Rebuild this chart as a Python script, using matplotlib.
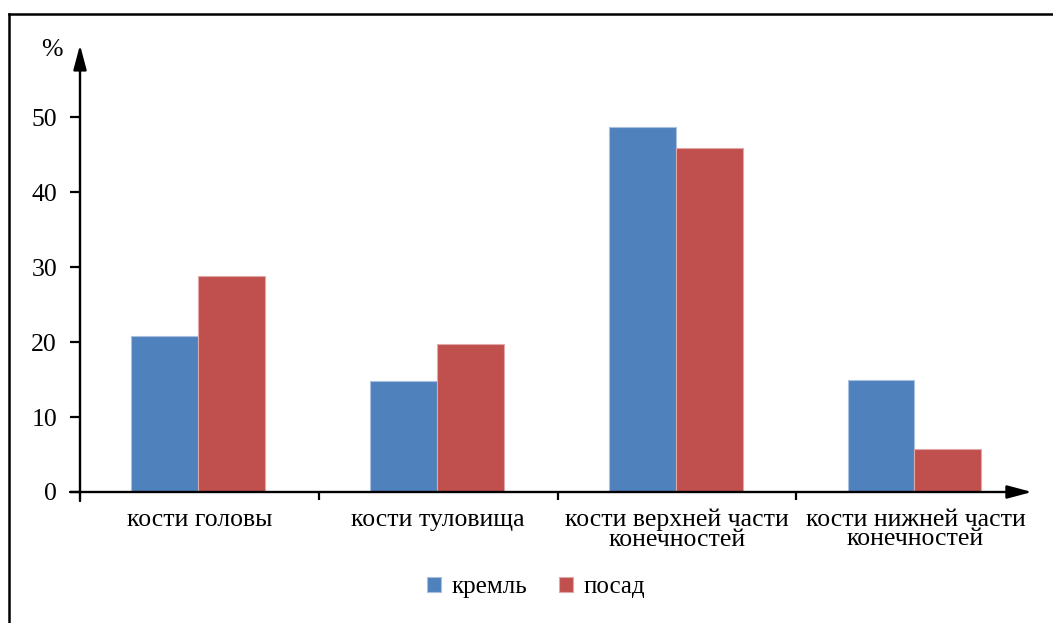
import matplotlib
matplotlib.use('Agg')
import matplotlib.pyplot as plt
from matplotlib.lines import Line2D
import numpy as np

plt.rcParams['font.family'] = ['Liberation Serif', 'DejaVu Serif']

# доля костей по отделам скелета, %
categories = ['кости головы', 'кости туловища',
              'кости верхней части\nконечностей', 'кости нижней части\nконечностей']
kreml = [20.8, 14.8, 48.7, 14.9]
posad = [28.8, 19.8, 45.9, 5.7]
series_names = ['кремль', 'посад']
y_ticks = [0, 10, 20, 30, 40, 50]

blue = '#4F81BD'
red = '#C0504D'

W, H = 1053, 623
fig = plt.figure(figsize=(W / 100, H / 100), dpi=100)

# plot area: x=0 at px 80, x=4 at px 1035; y=0 at px 492, 7.49 px per percent
ymax = 60
ax = fig.add_axes([80 / W, 1 - 492 / H, 955 / W, ymax * 7.49 / H])
ax.set_xlim(0, 4)
ax.set_ylim(0, ymax)

x = np.arange(len(categories)) + 0.5
bw = 0.28
b1 = ax.bar(x - 0.145, kreml, bw, color=blue, edgecolor='#a9c0de', linewidth=0.8, label=series_names[0])
b2 = ax.bar(x + 0.135, posad, bw, color=red, edgecolor='#e0a8a6', linewidth=0.8, label=series_names[1])

for s in ax.spines.values():
    s.set_visible(False)

# axes drawn as arrows
px_x = 1 / 238.75
px_y = 1 / 7.49
arrow = dict(arrowstyle='-|>,head_length=0.75,head_width=0.2', color='black',
             lw=1.7, shrinkA=0, shrinkB=0, mutation_scale=20)
ax.annotate('', xy=(3.987, 0), xytext=(-10 * px_x, 0), arrowprops=arrow,
            annotation_clip=False)
ax.annotate('', xy=(0, (492 - 45) * px_y), xytext=(0, -9 * px_y), arrowprops=arrow,
            annotation_clip=False)

ax.set_yticks(y_ticks)
ax.tick_params(axis='y', direction='out', length=7.5, width=1.6, pad=9, labelsize=18.5)

ax.set_xticks(x)
ax.set_xticklabels(categories)
ax.set_xticks([1, 2, 3], minor=True)
ax.tick_params(axis='x', which='major', length=0, pad=12, labelsize=18.5)
ax.tick_params(axis='x', which='minor', direction='out', length=6, width=1.6)
for lbl in ax.get_xticklabels():
    lbl.set_linespacing(0.86)
    lbl.set_verticalalignment('top')

fig.text(52 / W, 1 - 50 / H, '%', fontsize=18.5, ha='center', va='center')

ax.legend(handles=[b1, b2], loc='center', bbox_to_anchor=(536 / W, 1 - 587 / H),
          bbox_transform=fig.transFigure, ncol=2, frameon=False, fontsize=18,
          handlelength=0.55, handleheight=0.55, handletextpad=0.4, columnspacing=1.3)

# frame around the figure
fig.add_artist(Line2D([9 / W, 9 / W], [0, 1 - 14 / H], color='black', lw=1.8))
fig.add_artist(Line2D([9 / W, 1], [1 - 14 / H, 1 - 14 / H], color='black', lw=1.8))

fig.savefig('out.png', dpi=100)
